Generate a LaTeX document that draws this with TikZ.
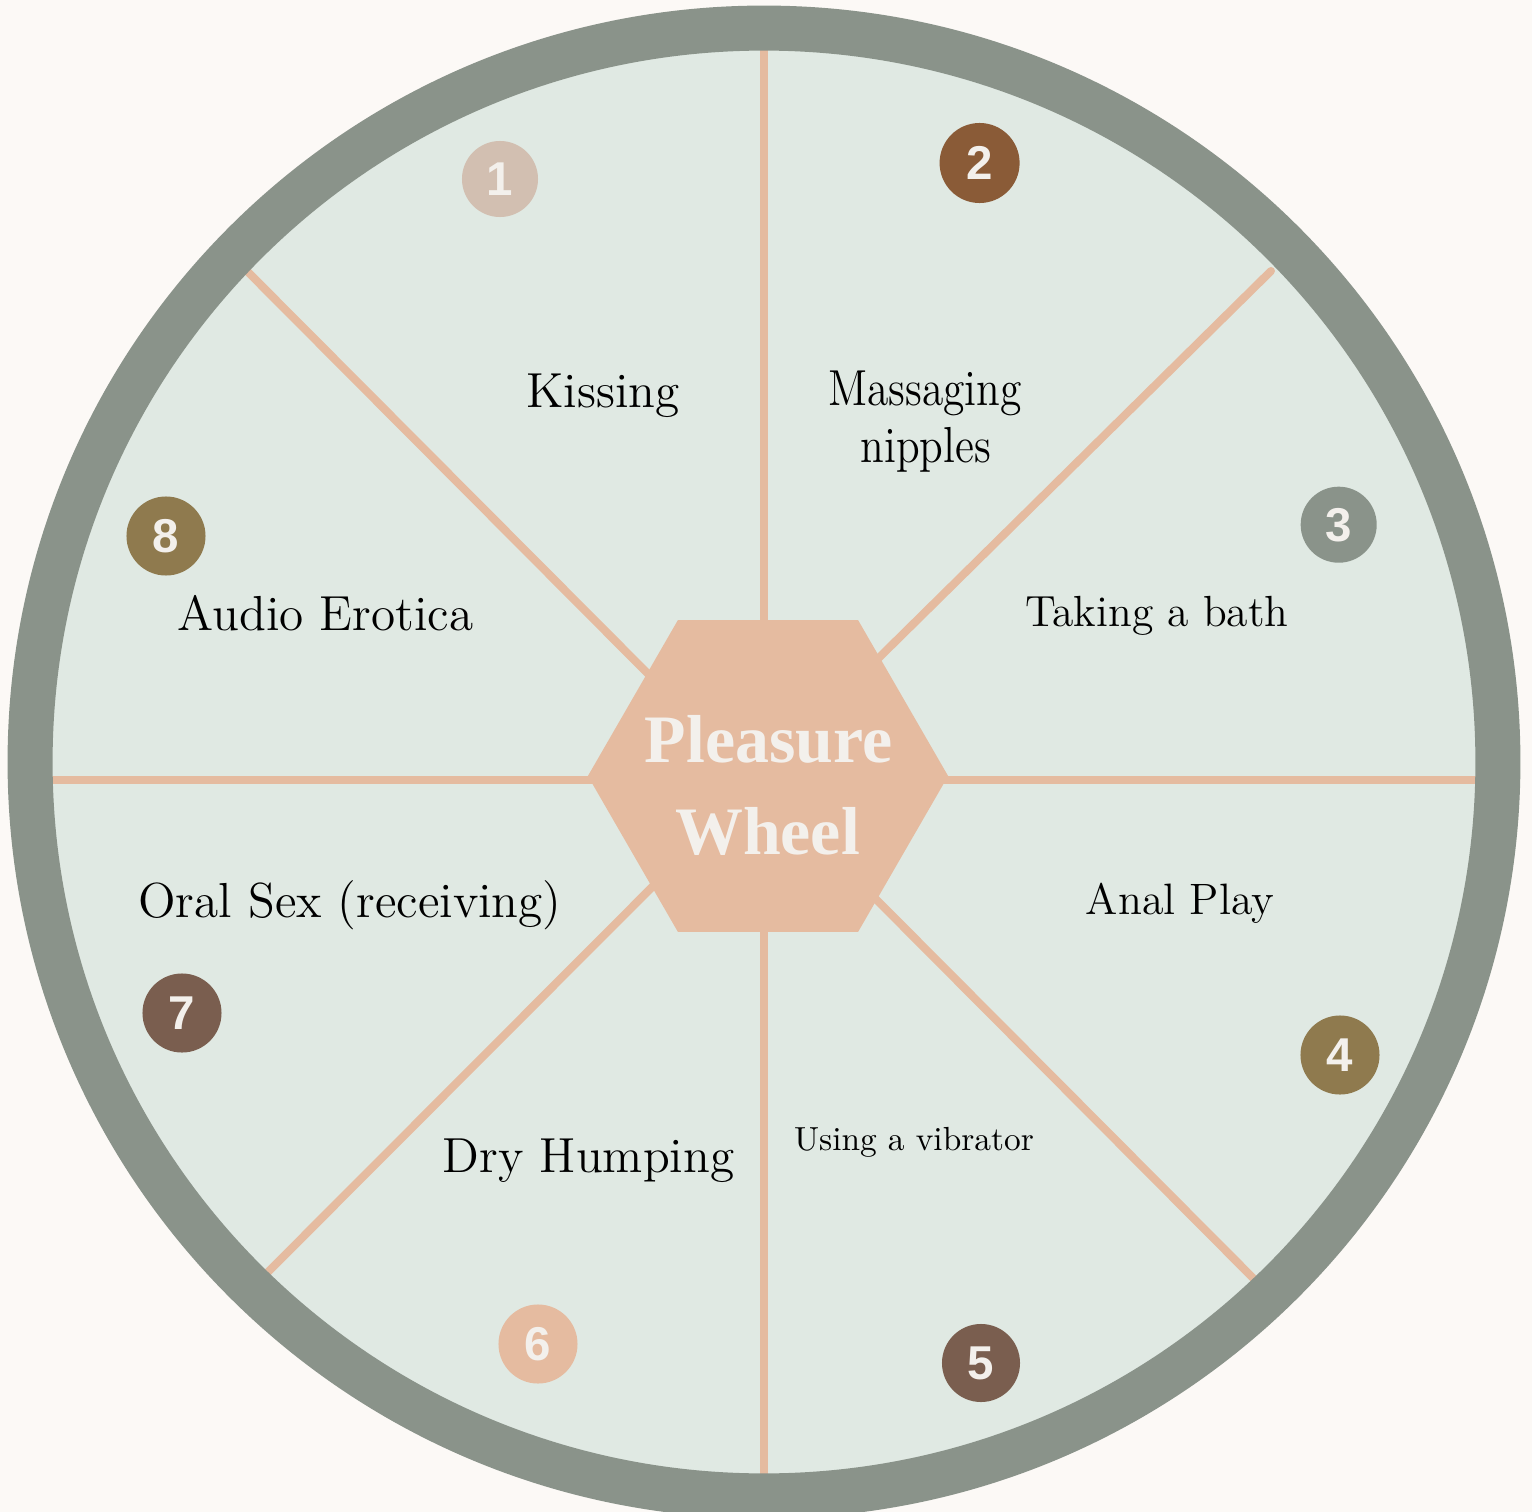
\documentclass[tikz,border=0pt]{standalone}
\usepackage{fontspec}
\newfontfamily\badgefont{Liberation Sans}
\newfontfamily\titlefont{Liberation Serif}
\usetikzlibrary{shapes.geometric}

\definecolor{paper}{HTML}{FCF9F6}
\definecolor{rim}{HTML}{8A938A}
\definecolor{disc}{HTML}{E0E9E3}
\definecolor{peach}{HTML}{E5BBA0}
\definecolor{blush}{HTML}{D2BFB1}
\definecolor{umber}{HTML}{8A5B37}
\definecolor{olive}{HTML}{8F7A4E}
\definecolor{cocoa}{HTML}{7A5E4F}
\definecolor{cream}{HTML}{F3F0EC}

\begin{document}
\begin{tikzpicture}[x=0.01cm,y=-0.01cm,
  spoke/.style={draw=peach,line width=0.08cm,line cap=round},
  badge/.style={circle,fill=#1,minimum size=0.79cm,inner sep=0pt,text=cream,
    font=\badgefont\bfseries\fontsize{13.5}{14}\selectfont},
  itemtext/.style={anchor=base,text=black,inner sep=0pt,
    font=\fontsize{#1}{#1}\selectfont},
  titletext/.style={anchor=base,text=cream,inner sep=0pt,
    font=\titlefont\bfseries\fontsize{19.3}{20}\selectfont},
]
\useasboundingbox (0,0) rectangle (1532,1512);
\clip (0,0) rectangle (1532,1512);
\fill[paper] (0,0) rectangle (1532,1512);

% wheel face
\coordinate (c) at (764,762);
\fill[disc] (c) circle (7.13cm);

% spokes
\coordinate (nN) at (764,40);   \coordinate (sN) at (764,1480);
\coordinate (wN) at (40,780);   \coordinate (eN) at (1490,780);
\coordinate (ulo) at (240,264);  \coordinate (uli) at (700,726);
\coordinate (uro) at (1271,271); \coordinate (uri) at (830,706);
\coordinate (llo) at (262,1278); \coordinate (lli) at (700,839);
\coordinate (lro) at (1260,1285);\coordinate (lri) at (830,853);
\draw[spoke] (nN) -- (sN);
\draw[spoke] (wN) -- (eN);
\draw[spoke] (ulo) -- (uli);
\draw[spoke] (uro) -- (uri);
\draw[spoke] (llo) -- (lli);
\draw[spoke] (lro) -- (lri);

% rim
\fill[rim,even odd rule] (c) circle (7.56cm) (c) circle (7.11cm);

% hub
\node[regular polygon,regular polygon sides=6,minimum size=3.6cm,
      fill=peach,inner sep=0pt] (hub) at (768,776) {};
\node[titletext] (t1) at (768.5,762) {Pleasure};
\node[titletext] (t2) at (767.5,854) {Wheel};

% activities
\node[itemtext=14] (kiss) at (603,407) {Kissing};
\node[itemtext=14.4] (mass1) at (925,405) {\scalebox{0.86}[1]{Massaging}};
\node[itemtext=14.4] (mass2) at (926,462) {\scalebox{0.86}[1]{nipples}};
\node[itemtext=12.4] (bath) at (1157,626) {Taking a bath};
\node[itemtext=12.5] (anal) at (1180,914) {Anal Play};
\node[itemtext=9.5] (vib) at (914,1150.7) {Using a vibrator};
\node[itemtext=14] (dry) at (588.5,1172) {Dry Humping};
\node[itemtext=14] (oral) at (350,917) {Oral Sex (receiving)};
\node[itemtext=14] (audio) at (325.5,630) {Audio Erotica};

% numbered badges
\node[badge=blush,minimum size=0.76cm] (b1) at (500,179) {1};
\node[badge=umber,minimum size=0.80cm] (b2) at (979.6,163) {2};
\node[badge=rim,minimum size=0.76cm] (b3) at (1338.7,524.7) {3};
\node[badge=olive] (b4) at (1340,1055) {4};
\node[badge=cocoa,minimum size=0.78cm] (b5) at (981,1363) {5};
\node[badge=peach] (b6) at (538,1344) {6};
\node[badge=cocoa] (b7) at (182,1013) {7};
\node[badge=olive] (b8) at (166,536) {8};
\end{tikzpicture}
\end{document}
